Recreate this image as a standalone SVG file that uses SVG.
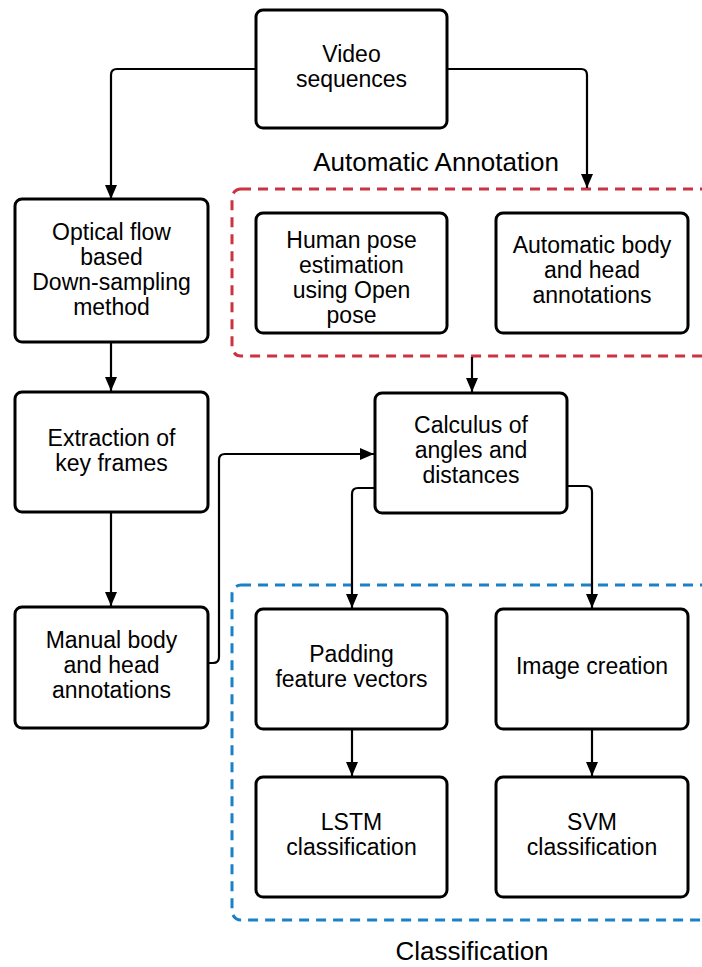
<svg xmlns="http://www.w3.org/2000/svg" width="702" height="967" viewBox="0 0 702 967">
<style>
.node rect{fill:#fff;stroke:#000;stroke-width:3}
.node text,.title{font-family:"Liberation Sans",Arial,sans-serif;fill:#000;text-anchor:middle}
.node text{font-size:23px}
.title{font-size:26px}
.conn path{fill:none;stroke:#000;stroke-width:2.2}
.grp{fill:none;stroke-width:3;stroke-dasharray:10 7}
</style>
<defs>
<marker id="ah" viewBox="0 0 14 12" refX="14" refY="6" markerWidth="14" markerHeight="12" markerUnits="userSpaceOnUse" orient="auto">
<path d="M0,0 L14,6 L0,12 Z" fill="#000"/>
</marker>
</defs>
<g id="group-automatic">
<rect class="grp" x="232" y="189" width="500" height="167" rx="9" stroke="#cc3340"/>
<text class="title" x="436" y="171">Automatic Annotation</text>
</g>
<g id="group-classification">
<rect class="grp" x="232" y="585" width="500" height="335" rx="9" stroke="#1b80c4"/>
<text class="title" x="472" y="960">Classification</text>
</g>
<g class="conn" id="connectors">
<path d="M256,69 H117 Q111,69 111,75 V199" marker-end="url(#ah)"/>
<path d="M447,69 H581 Q587,69 587,75 V188" marker-end="url(#ah)"/>
<path d="M111,342 V391" marker-end="url(#ah)"/>
<path d="M111,512 V606" marker-end="url(#ah)"/>
<path d="M208,663 H213 Q219,663 219,657 V460 Q219,454 225,454 H374" marker-end="url(#ah)"/>
<path d="M472,357 V392" marker-end="url(#ah)"/>
<path d="M375,488 H358 Q352,488 352,494 V608" marker-end="url(#ah)"/>
<path d="M567,486 H586 Q592,486 592,492 V608" marker-end="url(#ah)"/>
<path d="M352,729 V776" marker-end="url(#ah)"/>
<path d="M592,729 V776" marker-end="url(#ah)"/>
</g>
<g class="node" id="video">
<rect x="256" y="10" width="191" height="118" rx="7"/>
<text x="351.5" y="62">Video</text>
<text x="351.5" y="87">sequences</text>
</g>
<g class="node" id="optical">
<rect x="15" y="199" width="193" height="143" rx="7"/>
<text x="111.5" y="240">Optical flow</text>
<text x="111.5" y="265">based</text>
<text x="111.5" y="290">Down-sampling</text>
<text x="111.5" y="315">method</text>
</g>
<g class="node" id="human-pose">
<rect x="256" y="213" width="191" height="120" rx="7"/>
<text x="351.5" y="248">Human pose</text>
<text x="351.5" y="273">estimation</text>
<text x="351.5" y="298">using Open</text>
<text x="351.5" y="323">pose</text>
</g>
<g class="node" id="auto-body">
<rect x="496" y="213" width="192" height="120" rx="7"/>
<text x="592" y="253">Automatic body</text>
<text x="592" y="278">and head</text>
<text x="592" y="303">annotations</text>
</g>
<g class="node" id="extraction">
<rect x="15" y="392" width="193" height="120" rx="7"/>
<text x="111.5" y="446">Extraction of</text>
<text x="111.5" y="471">key frames</text>
</g>
<g class="node" id="calculus">
<rect x="375" y="393" width="192" height="120" rx="7"/>
<text x="471" y="433">Calculus of</text>
<text x="471" y="458">angles and</text>
<text x="471" y="483">distances</text>
</g>
<g class="node" id="manual">
<rect x="15" y="607" width="193" height="121" rx="7"/>
<text x="111.5" y="648">Manual body</text>
<text x="111.5" y="673">and head</text>
<text x="111.5" y="698">annotations</text>
</g>
<g class="node" id="padding">
<rect x="256" y="609" width="191" height="120" rx="7"/>
<text x="351.5" y="662">Padding</text>
<text x="351.5" y="687">feature vectors</text>
</g>
<g class="node" id="image-creation">
<rect x="496" y="609" width="192" height="120" rx="7"/>
<text x="592" y="674">Image creation</text>
</g>
<g class="node" id="lstm">
<rect x="256" y="777" width="191" height="120" rx="7"/>
<text x="351.5" y="830">LSTM</text>
<text x="351.5" y="855">classification</text>
</g>
<g class="node" id="svm">
<rect x="496" y="777" width="192" height="120" rx="7"/>
<text x="592" y="830">SVM</text>
<text x="592" y="855">classification</text>
</g>
</svg>
